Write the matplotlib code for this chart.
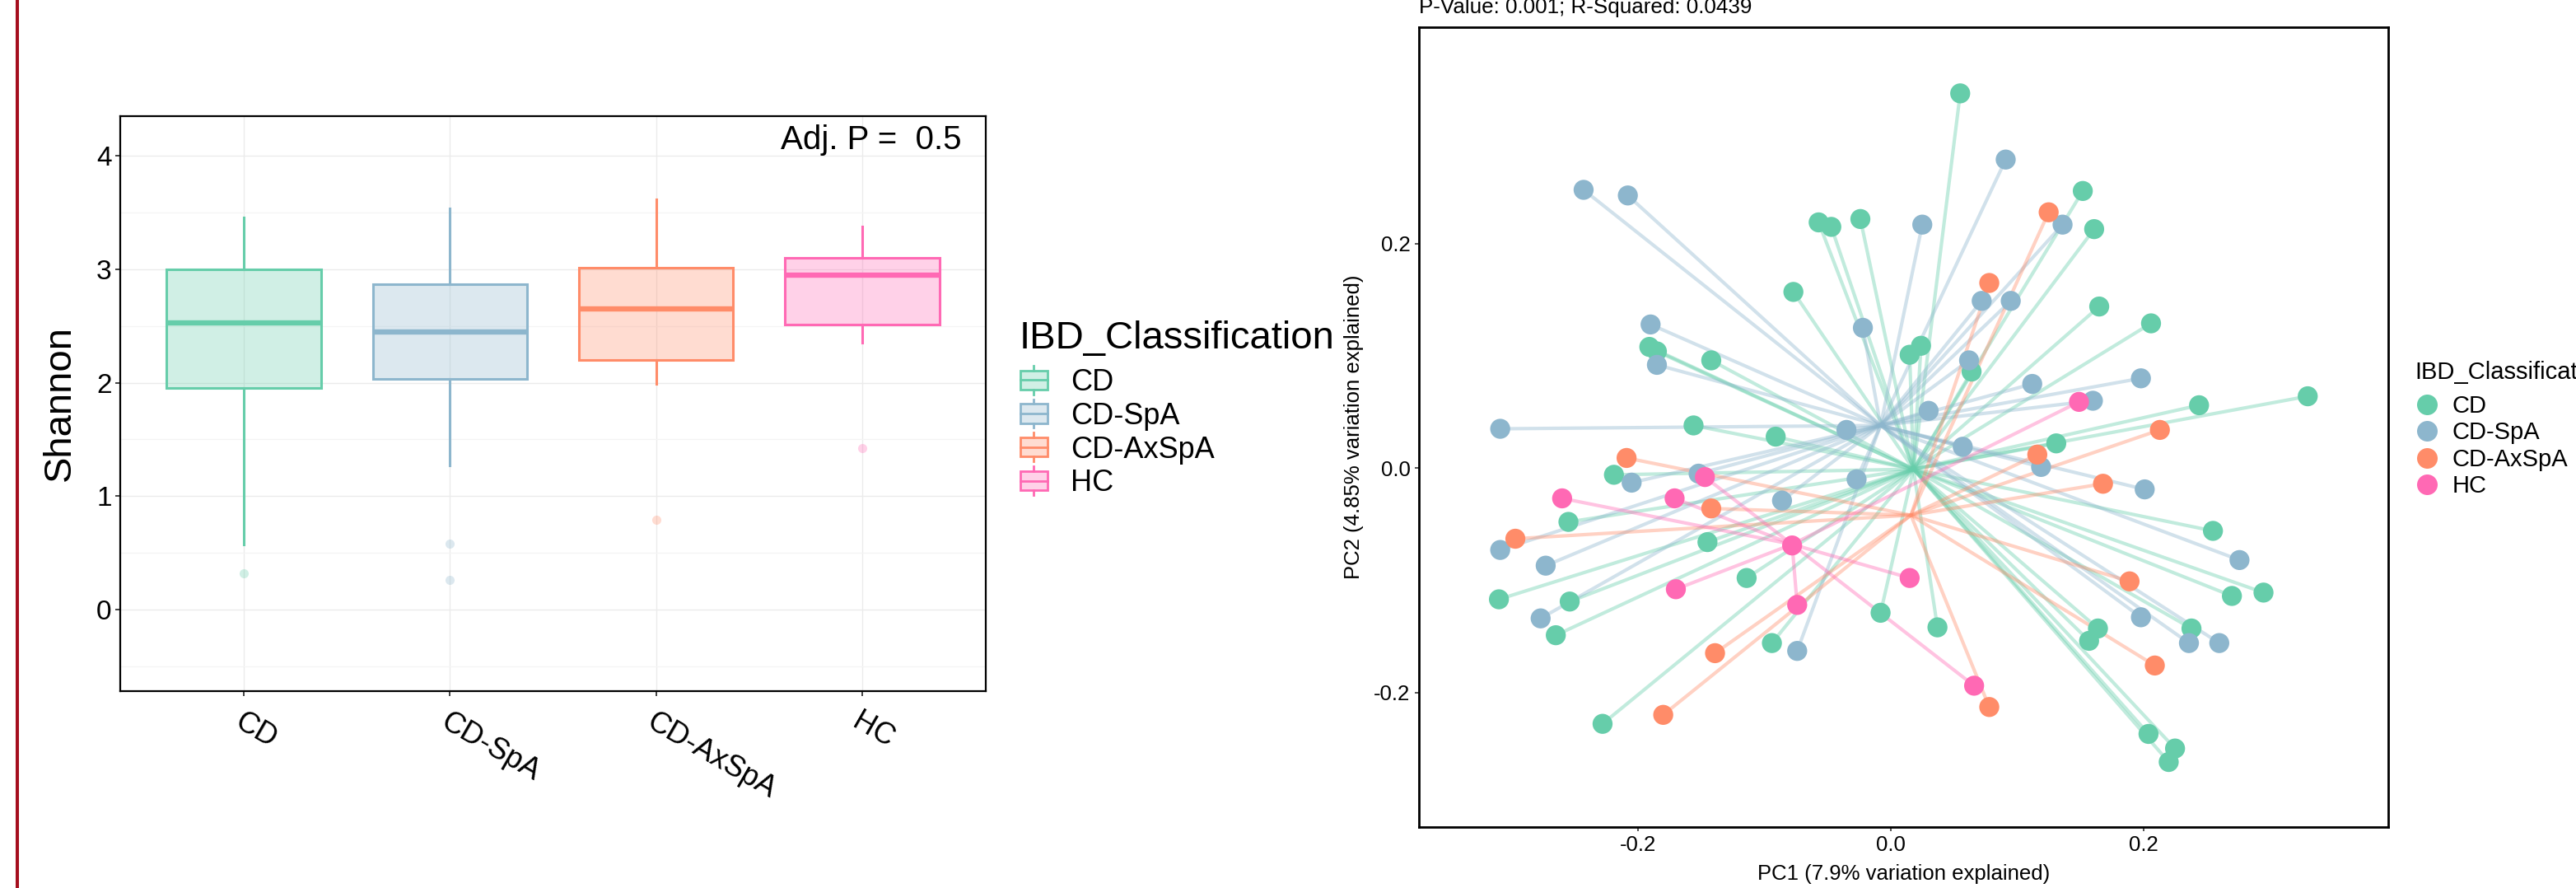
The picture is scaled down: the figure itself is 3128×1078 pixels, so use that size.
import numpy as np
import matplotlib
matplotlib.use("Agg")
import matplotlib.pyplot as plt
from matplotlib.collections import LineCollection
from matplotlib.lines import Line2D
from matplotlib.patches import Rectangle, Patch
from matplotlib.legend_handler import HandlerBase

plt.rcParams['font.family'] = ['Liberation Sans', 'DejaVu Sans']

W, H = 3128, 1078

groups = ["CD", "CD-SpA", "CD-AxSpA", "HC"]
colors = ["#66CDAA", "#8DB6CD", "#FF8C69", "#FF69B4"]

# Shannon boxplot summary
shannon_q1 = [1.95, 2.03, 2.20, 2.51]
shannon_med = [2.53, 2.45, 2.65, 2.95]
shannon_q3 = [3.00, 2.87, 3.01, 3.10]
shannon_whislo = [0.57, 1.27, 1.99, 2.35]
shannon_whishi = [3.46, 3.54, 3.62, 3.38]
shannon_outliers = [[0.32], [0.58, 0.26], [0.79], [1.42]]

# PCoA coordinates per group
cd_x = [0.055, 0.152, 0.161, -0.057, -0.047, -0.024, -0.077, 0.165, 0.206, -0.191,
        -0.185, -0.142, 0.015, 0.024, 0.064, 0.330, 0.244, -0.156, -0.091, 0.131,
        -0.219, -0.255, -0.145, -0.114, 0.255, -0.310, -0.254, 0.270, 0.295, -0.265,
        -0.008, 0.037, -0.094, 0.164, 0.157, 0.238, -0.228, 0.204, 0.225, 0.220]
cd_y = [0.334, 0.247, 0.213, 0.219, 0.215, 0.222, 0.157, 0.144, 0.129, 0.108,
        0.104, 0.096, 0.101, 0.109, 0.086, 0.064, 0.056, 0.038, 0.028, 0.022,
        -0.006, -0.048, -0.066, -0.098, -0.056, -0.117, -0.119, -0.114, -0.111, -0.149,
        -0.129, -0.142, -0.156, -0.143, -0.154, -0.143, -0.228, -0.237, -0.250, -0.262]
spa_x = [0.091, -0.243, -0.208, 0.025, 0.136, 0.072, 0.095, -0.022, -0.190, -0.185,
         0.062, 0.112, 0.198, 0.160, 0.030, -0.309, -0.035, 0.057, 0.119, -0.152,
         -0.205, -0.027, 0.201, -0.086, -0.309, -0.273, 0.276, -0.277, 0.198, 0.236,
         0.260, -0.074]
spa_y = [0.275, 0.248, 0.243, 0.217, 0.217, 0.149, 0.149, 0.125, 0.128, 0.092,
         0.096, 0.075, 0.080, 0.060, 0.051, 0.035, 0.034, 0.019, 0.001, -0.005,
         -0.013, -0.010, -0.019, -0.029, -0.073, -0.087, -0.082, -0.134, -0.133, -0.156,
         -0.156, -0.163]
axspa_x = [0.125, 0.078, 0.213, -0.209, 0.116, 0.168, -0.142, -0.297, 0.189, -0.139,
           0.209, -0.180, 0.078]
axspa_y = [0.228, 0.165, 0.034, 0.009, 0.012, -0.014, -0.036, -0.063, -0.101, -0.165,
           -0.176, -0.220, -0.213]
hc_x = [0.149, -0.147, -0.260, -0.171, -0.078, 0.015, -0.170, -0.074, 0.066]
hc_y = [0.059, -0.008, -0.027, -0.027, -0.069, -0.098, -0.108, -0.122, -0.194]

centroid_x = [0.018, -0.008, 0.016, -0.078]
centroid_y = [-0.001, 0.038, -0.042, -0.068]

pc_x = [cd_x, spa_x, axspa_x, hc_x]
pc_y = [cd_y, spa_y, axspa_y, hc_y]


def fax(l, t, r, b):
    return [l / W, 1 - b / H, (r - l) / W, (b - t) / H]


fig = plt.figure(figsize=(W / 100, H / 100), dpi=100)

# red margin line
fig.add_artist(Line2D([20.7 / W, 20.7 / W], [0, 1], color="#A50F1E", lw=2.9))

# ---------- left: Shannon boxplot ----------
ax1 = fig.add_axes(fax(146, 141, 1197, 839))
stats = []
for i in range(4):
    stats.append(dict(med=shannon_med[i], q1=shannon_q1[i], q3=shannon_q3[i],
                      whislo=shannon_whislo[i], whishi=shannon_whishi[i],
                      fliers=shannon_outliers[i]))
bp = ax1.bxp(stats, positions=[1, 2, 3, 4], widths=0.75, patch_artist=True,
             showcaps=False)
for i, c in enumerate(colors):
    bp['boxes'][i].set(facecolor=matplotlib.colors.to_rgba(c, 0.3), edgecolor=c,
                       linewidth=2.2, zorder=3)
    bp['medians'][i].set(color=c, linewidth=4.6, zorder=4, solid_capstyle='butt')
    for w in bp['whiskers'][2 * i:2 * i + 2]:
        w.set(color=c, linewidth=2.2, zorder=2)
    bp['fliers'][i].set(marker='o', markersize=8, markerfacecolor=c,
                        markeredgecolor='none', alpha=0.3)

ax1.set_xlim(0.4, 4.6)
ax1.set_ylim(-0.72, 4.35)
ax1.set_yticks([0, 1, 2, 3, 4])
ax1.set_yticks([-0.5, 0.5, 1.5, 2.5, 3.5], minor=True)
ax1.set_xticks([1, 2, 3, 4])
ax1.set_xticklabels(groups, rotation=-30, ha='left', va='top',
                    rotation_mode='anchor')
ax1.grid(which='major', color='#EBEBEB', lw=1.0)
ax1.grid(which='minor', axis='y', color='#F4F4F4', lw=0.9)
ax1.set_axisbelow(True)
ax1.tick_params(axis='both', which='major', length=4, width=1.3,
                color='#333333', labelcolor='black')
ax1.tick_params(axis='y', labelsize=24)
ax1.tick_params(axis='x', labelsize=26, pad=10)
ax1.tick_params(which='minor', length=0)
for s in ax1.spines.values():
    s.set_linewidth(1.6)
ax1.set_ylabel("Shannon", fontsize=34)
ax1.yaxis.set_label_coords(-0.0698, 0.5)
ax1.yaxis.label.set_va('center')
ax1.text(0.9724, 0.958, "Adj. P =  0.5", transform=ax1.transAxes, ha='right',
         va='center', fontsize=29)


class BoxKey(HandlerBase):
    def create_artists(self, legend, orig_handle, xdescent, ydescent, width,
                       height, fontsize, trans):
        c = orig_handle.get_edgecolor()
        x0, y0 = -xdescent, -ydescent
        rect = Rectangle((x0, y0), width, height, facecolor=(c[0], c[1], c[2], 0.3),
                         edgecolor=c, lw=2.0, transform=trans)
        med = Line2D([x0, x0 + width], [y0 + height / 2] * 2, color=c, lw=2.0,
                     transform=trans)
        up = Line2D([x0 + width / 2] * 2, [y0 + height, y0 + height * 1.25], color=c,
                    lw=2.0, transform=trans)
        dn = Line2D([x0 + width / 2] * 2, [y0, y0 - height * 0.25], color=c, lw=2.0,
                    transform=trans)
        return [rect, med, up, dn]


box_handles = [Patch(facecolor=c, edgecolor=c) for c in colors]
fig.text(1238 / W, 1 - 423 / H, "IBD_Classification", fontsize=34, va='baseline')
fig.legend(box_handles, groups, loc='upper left',
           bbox_to_anchor=(1239 / W, 1 - 447 / H), bbox_transform=fig.transFigure,
           frameon=False, borderpad=0, borderaxespad=0, fontsize=26,
           handlelength=0.91, handleheight=0.61, handletextpad=0.78,
           labelspacing=0.16, handler_map={Patch: BoxKey()})

# ---------- right: PCoA spider plot ----------
ax2 = fig.add_axes(fax(1723, 33, 2900, 1004))
for i, c in enumerate(colors):
    segs = [[(centroid_x[i], centroid_y[i]), (x, y)] for x, y in zip(pc_x[i], pc_y[i])]
    ax2.add_collection(LineCollection(segs, colors=c, linewidths=3.0, alpha=0.4,
                                      zorder=2))
for i, c in enumerate(colors):
    ax2.scatter(pc_x[i], pc_y[i], s=17.5 ** 2, color=c, edgecolors='none', zorder=3)

ax2.set_xlim(-0.3733, 0.3937)
ax2.set_ylim(-0.320, 0.393)
ax2.set_xticks([-0.2, 0.0, 0.2])
ax2.set_yticks([-0.2, 0.0, 0.2])
ax2.set_xticklabels(["-0.2", "0.0", "0.2"])
ax2.set_yticklabels(["-0.2", "0.0", "0.2"])
ax2.tick_params(axis='both', labelsize=18.5, length=3.5, width=1.2,
                color='#333333', pad=4)
for s in ax2.spines.values():
    s.set_linewidth(2.0)
ax2.set_xlabel("PC1 (7.9% variation explained)", fontsize=18.5)
ax2.xaxis.set_label_coords(0.5, -0.0587)
ax2.xaxis.label.set_va('center')
ax2.set_ylabel("PC2 (4.85% variation explained)", fontsize=18.5)
ax2.yaxis.set_label_coords(-0.0671, 0.5)
ax2.yaxis.label.set_va('center')

fig.text(1723 / W, 1 - 16 / H, "P-Value: 0.001; R-Squared: 0.0439", fontsize=18.7,
         va='baseline', ha='left')

dot_handles = [Line2D([], [], marker='o', ls='', markersize=18, color=c,
                      markeredgecolor='none') for c in colors]
fig.text(2932.7 / W, 1 - 460 / H, "IBD_Classification", fontsize=21, va='baseline')
fig.legend(dot_handles, groups, loc='upper left',
           bbox_to_anchor=(2934.5 / W, 1 - 479 / H), bbox_transform=fig.transFigure,
           frameon=False, borderpad=0, borderaxespad=0, fontsize=21,
           handlelength=0.86, handletextpad=0.62, labelspacing=0.15)

fig.savefig("out.png", dpi=100)
